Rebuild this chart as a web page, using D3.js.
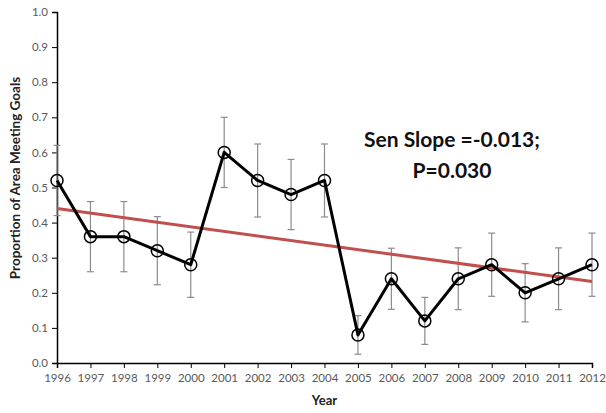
<!DOCTYPE html>
<html>
<head>
<meta charset="utf-8">
<script src="https://cdn.jsdelivr.net/npm/d3@7"></script>
<style>
  html, body { margin: 0; padding: 0; background: #fff; }
  svg { display: block; }
  text { font-family: Lato, "Open Sans", sans-serif; }
</style>
</head>
<body>
<svg id="chart" width="606" height="413"></svg>
<script>
// Annual proportion of area meeting goals, with standard error bars
const years = [1996, 1997, 1998, 1999, 2000, 2001, 2002, 2003, 2004,
               2005, 2006, 2007, 2008, 2009, 2010, 2011, 2012];
const proportion = [0.52, 0.36, 0.36, 0.32, 0.28, 0.60, 0.52, 0.48, 0.52,
                    0.08, 0.24, 0.12, 0.24, 0.28, 0.20, 0.24, 0.28];
const errorHalf = [0.10, 0.10, 0.10, 0.097, 0.093, 0.10, 0.104, 0.10, 0.104,
                   0.055, 0.087, 0.067, 0.088, 0.09, 0.083, 0.088, 0.09];
const yTicks = [0.0, 0.1, 0.2, 0.3, 0.4, 0.5, 0.6, 0.7, 0.8, 0.9, 1.0];

// Sen's slope trend: value at first year and slope per year
const trendStart = 0.44;
const senSlope = -0.013;
const statLines = ["Sen Slope =-0.013;", "P=0.030"];

const svg = d3.select("#chart");
const margin = { left: 57, right: 14, top: 12, bottom: 50 };
const W = 606, H = 413;

const x = d3.scaleLinear()
  .domain([years[0], years[years.length - 1]])
  .range([margin.left, W - margin.right]);
const y = d3.scaleLinear()
  .domain([0, 1])
  .range([H - margin.bottom, margin.top]);

const tickColor = "#595959";

// Y axis
const yAxis = svg.append("g")
  .attr("transform", `translate(${margin.left},0)`)
  .call(d3.axisLeft(y).tickValues(yTicks).tickFormat(d3.format(".1f")).tickSize(5).tickPadding(4));
yAxis.select(".domain").attr("stroke", "#000").attr("stroke-width", 1.5);
yAxis.selectAll(".tick line").attr("stroke", "#000").attr("stroke-width", 1);
yAxis.selectAll(".tick text").attr("fill", tickColor).attr("font-size", 11.5);

// X axis
const xAxis = svg.append("g")
  .attr("transform", `translate(0,${y(0)})`)
  .call(d3.axisBottom(x).tickValues(years).tickFormat(d3.format("d")).tickSize(5).tickPadding(6));
xAxis.select(".domain").attr("stroke", "#000").attr("stroke-width", 1.5);
xAxis.selectAll(".tick line").attr("stroke", "#000").attr("stroke-width", 1);
xAxis.selectAll(".tick text").attr("fill", tickColor).attr("font-size", 11.5);

// Axis titles
svg.append("text")
  .attr("x", (margin.left + W - margin.right) / 2)
  .attr("y", 405)
  .attr("text-anchor", "middle")
  .attr("font-weight", "bold")
  .attr("font-size", 13)
  .attr("fill", "#222")
  .text("Year");

svg.append("text")
  .attr("transform", `translate(20,178) rotate(-90)`)
  .attr("text-anchor", "middle")
  .attr("font-weight", "bold")
  .attr("font-size", 13.5)
  .attr("fill", "#222")
  .text("Proportion of Area Meeting Goals");

const pts = years.map((yr, i) => ({ yr, v: proportion[i], e: errorHalf[i] }));

// Error bars
const eb = svg.append("g").attr("stroke", "#8c8c8c").attr("stroke-width", 1.2);
eb.selectAll("line.v").data(pts).join("line")
  .attr("x1", d => x(d.yr)).attr("x2", d => x(d.yr))
  .attr("y1", d => y(d.v - d.e)).attr("y2", d => y(d.v + d.e));
eb.selectAll("line.t").data(pts).join("line")
  .attr("x1", d => x(d.yr) - 3.5).attr("x2", d => x(d.yr) + 3.5)
  .attr("y1", d => y(d.v + d.e)).attr("y2", d => y(d.v + d.e));
eb.selectAll("line.b").data(pts).join("line")
  .attr("x1", d => x(d.yr) - 3.5).attr("x2", d => x(d.yr) + 3.5)
  .attr("y1", d => y(d.v - d.e)).attr("y2", d => y(d.v - d.e));

// Trend line
const y0 = years[0], y1 = years[years.length - 1];
svg.append("line")
  .attr("x1", x(y0)).attr("y1", y(trendStart))
  .attr("x2", x(y1)).attr("y2", y(trendStart + senSlope * (y1 - y0)))
  .attr("stroke", "#c0504d")
  .attr("stroke-width", 3);

// Data line
svg.append("path")
  .datum(pts)
  .attr("fill", "none")
  .attr("stroke", "#000")
  .attr("stroke-width", 3)
  .attr("stroke-linejoin", "round")
  .attr("d", d3.line().x(d => x(d.yr)).y(d => y(d.v)));

// Open markers
svg.append("g").selectAll("circle").data(pts).join("circle")
  .attr("cx", d => x(d.yr)).attr("cy", d => y(d.v))
  .attr("r", 6)
  .attr("fill", "none")
  .attr("stroke", "#000")
  .attr("stroke-width", 1.5);

// Trend statistics
svg.append("text")
  .attr("x", 452).attr("y", 147)
  .attr("text-anchor", "middle")
  .attr("font-weight", "bold")
  .attr("font-size", 21)
  .attr("fill", "#111")
  .selectAll("tspan").data(statLines).join("tspan")
  .attr("x", 452)
  .attr("dy", (d, i) => i === 0 ? 0 : 31)
  .text(d => d);
</script>
</body>
</html>
